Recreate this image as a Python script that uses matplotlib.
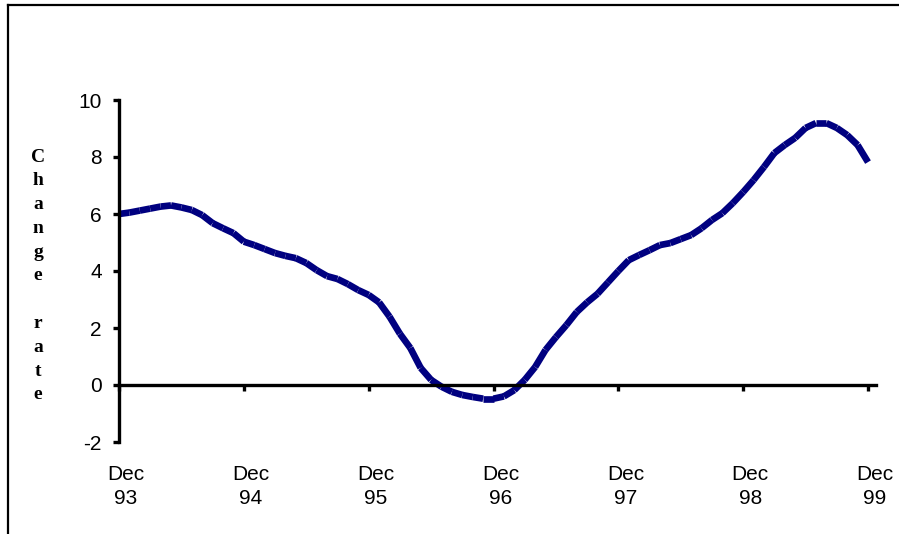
import matplotlib
matplotlib.use("Agg")
import matplotlib.pyplot as plt
import matplotlib.transforms as mtransforms
from matplotlib.lines import Line2D

# ---- data (monthly, Dec 93 .. Dec 99) ----
months = list(range(73))
values = [
    6.00, 6.05, 6.12, 6.19, 6.26, 6.30, 6.23, 6.14, 5.96, 5.68, 5.50, 5.33,   # Dec93 - Nov94
    5.03, 4.91, 4.77, 4.63, 4.53, 4.45, 4.28, 4.03, 3.82, 3.72, 3.54, 3.33,   # Dec94 - Nov95
    3.16, 2.90, 2.40, 1.80, 1.30, 0.60, 0.18, -0.06, -0.24, -0.35, -0.42, -0.48,  # Dec95 - Nov96
    -0.48, -0.40, -0.18, 0.18, 0.63, 1.23, 1.68, 2.10, 2.56, 2.90, 3.20, 3.60,  # Dec96 - Nov97
    4.00, 4.38, 4.56, 4.73, 4.91, 4.98, 5.12, 5.26, 5.50, 5.79, 6.03, 6.38,   # Dec97 - Nov98
    6.77, 7.19, 7.65, 8.14, 8.42, 8.67, 9.02, 9.19, 9.19, 9.02, 8.77, 8.42,   # Dec98 - Nov99
    7.82,                                                                     # Dec99
]
tick_months = [0, 12, 24, 36, 48, 60, 72]
tick_labels = ["Dec\n93", "Dec\n94", "Dec\n95", "Dec\n96", "Dec\n97", "Dec\n98", "Dec\n99"]
y_ticks = [-2, 0, 2, 4, 6, 8, 10]
y_label = "Change rate"

# ---- figure ----
W, H = 899, 534
fig = plt.figure(figsize=(W / 100, H / 100), dpi=100)
fig.patch.set_facecolor("white")

left_px, right_px = 119, 876
top_px, bot_px = 100, 442
ax = fig.add_axes([left_px / W, 1 - bot_px / H, (right_px - left_px) / W, (bot_px - top_px) / H])
ax.set_facecolor("white")

line_color = "#000080"
for i in range(len(months) - 1):
    ax.plot(months[i:i + 2], values[i:i + 2], color=line_color, lw=4.8,
            solid_capstyle="butt", clip_on=False)

px_per_month = (868 - 119) / 72.0
ax.set_xlim(0, (right_px - left_px) / px_per_month)
ax.set_ylim(-2, 10)

for s in ["top", "right"]:
    ax.spines[s].set_visible(False)
ax.spines["bottom"].set_position(("data", 0))
ax.spines["left"].set_linewidth(2.4)
ax.spines["bottom"].set_linewidth(2.4)

font = "Liberation Sans"
ax.set_yticks(y_ticks)
ax.set_yticklabels([str(v) for v in y_ticks], fontsize=15, family=font)
ax.set_xticks(tick_months)
ax.set_xticklabels(tick_labels, fontsize=15, family=font, linespacing=1.33)
ax.tick_params(axis="y", direction="out", length=4.5, width=2.4, pad=8, color="black")
ax.tick_params(axis="x", direction="out", length=4.5, width=2.4, pad=53, color="black")

offset = mtransforms.ScaledTranslation(7 / 100, 0, fig.dpi_scale_trans)
for lbl in ax.get_xticklabels():
    lbl.set_transform(lbl.get_transform() + offset)
    lbl.set_horizontalalignment("center")
    lbl.set_multialignment("center")

# stacked vertical axis title
stacked = "\n".join(list(y_label))
fig.text(38 / W, 1 - 276 / H, stacked, ha="center", va="center",
         fontsize=14, fontweight="bold", family="Liberation Serif", linespacing=1.52)

# figure frame (left and top edges)
fig.add_artist(Line2D([8 / W, 8 / W], [0, 1 - 5 / H], color="black", lw=1.6,
                      transform=fig.transFigure))
fig.add_artist(Line2D([8 / W, 1], [1 - 5 / H, 1 - 5 / H], color="black", lw=1.6,
                      transform=fig.transFigure))

fig.savefig("out.png", dpi=100, facecolor="white")
